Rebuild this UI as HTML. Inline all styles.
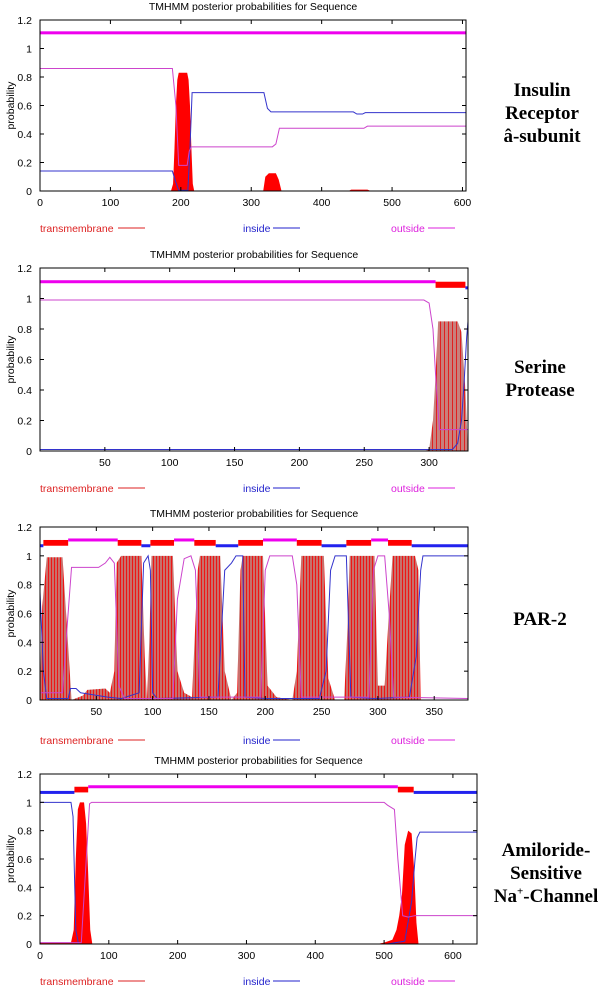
<!DOCTYPE html>
<html><head><meta charset="utf-8">
<style>
html,body{margin:0;padding:0;background:#fff;}
body{width:600px;height:986px;position:relative;overflow:hidden;font-family:"Liberation Sans",sans-serif;}
svg{position:absolute;left:0;top:0;}
.lab{position:absolute;font-family:"Liberation Serif",serif;font-weight:bold;font-size:19px;text-align:center;line-height:23px;color:#000;}
</style></head>
<body>
<svg id="chart" width="600" height="986" viewBox="0 0 600 986">
<defs>
<pattern id="stripe2" patternUnits="userSpaceOnUse" width="4" height="10"><rect width="4" height="10" fill="#c8807c"/><rect width="1" height="10" fill="#e02020"/></pattern>
<pattern id="stripe3" patternUnits="userSpaceOnUse" width="3" height="10"><rect width="3" height="10" fill="#c8706c"/><rect width="1" height="10" fill="#ee1515"/></pattern>
</defs>
</svg>
<div class="lab" style="left:482px;top:79px;width:120px;">Insulin<br>Receptor<br>â-subunit</div>
<div class="lab" style="left:482px;top:356px;width:116px;">Serine<br>Protease</div>
<div class="lab" style="left:482px;top:608px;width:116px;">PAR-2</div>
<div class="lab" style="left:490px;top:839px;width:112px;">Amiloride-<br>Sensitive<br>Na<sup style="font-size:11px;line-height:0">+</sup>-Channel</div>
<script>
// ---- Chart 1: Insulin receptor ----
const c1TmX=[0,186,189,191,193,195,197,209,211,213,215,217,219,317,320,325,335,339,343,438,442,465,470,605];
const c1TmY=[0,0,0.05,0.3,0.6,0.78,0.83,0.83,0.78,0.6,0.3,0.05,0,0,0.1,0.125,0.125,0.08,0,0,0.01,0.01,0,0];
const c1InX=[0,188,193,197,210,213,216,318,323,328,445,450,458,462,605];
const c1InY=[0.14,0.14,0.06,0.005,0.005,0.3,0.69,0.69,0.58,0.555,0.555,0.54,0.54,0.55,0.55];
const c1OutX=[0,188,193,197,209,212,215,330,335,340,460,465,605];
const c1OutY=[0.86,0.86,0.6,0.18,0.18,0.28,0.31,0.31,0.33,0.44,0.44,0.455,0.455];
const c1Topo=[[0,605,'o']];
const c1XTicks=[0,100,200,300,400,500,600];
// ---- Chart 2: Serine protease ----
const c2TmX=[0,296,300,303,305,307,322,325,328,330];
const c2TmY=[0,0,0.01,0.2,0.5,0.85,0.85,0.78,0.4,0];
const c2InX=[0,318,322,325,327,329,330];
const c2InY=[0.01,0.01,0.05,0.2,0.45,0.75,0.85];
const c2OutX=[0,296,300,303,305,308,330];
const c2OutY=[0.99,0.99,0.97,0.8,0.5,0.14,0.14];
const c2Topo=[[0,305,'o'],[305,328,'t'],[328,330,'i']];
const c2XTicks=[50,100,150,200,250,300];
// ---- Chart 3: PAR-2 ----
const c3TmX=[0,2,6,20,24,28,38,42,58,62,66,68,72,90,93,95,97,99,118,122,128,135,140,142,160,164,170,175,178,180,198,202,210,224,228,232,252,256,262,270,273,275,297,300,306,309,313,333,336,338,380];
const c3TmY=[0.1,0.65,0.99,0.99,0.5,0,0.03,0.07,0.08,0.05,0.2,0.95,1,1,0.3,0,0.4,1,1,0.2,0.05,0.02,0.9,1,1,0.2,0,0.05,0.9,1,1,0.1,0.02,0,0.2,1,1,0.15,0,0,0.5,1,1,0.1,0.1,0.5,1,1,0.9,0,0];
const c3InX=[0,3,6,25,27,32,36,60,72,88,92,96,98,100,104,158,164,170,174,180,182,200,248,254,258,262,272,276,296,328,334,338,340,380];
const c3InY=[0.75,0.2,0.01,0.01,0.08,0.08,0.05,0.02,0.01,0.05,0.95,1,0.9,0.05,0.01,0.02,0.9,0.95,1,1,0.02,0.01,0.01,0.2,0.9,1,1,0.02,0.01,0.02,0.3,0.9,1,1];
const c3OutX=[0,20,24,28,52,58,62,66,70,75,118,122,128,134,138,142,196,200,204,224,228,232,292,296,300,306,310,314,380];
const c3OutY=[0.05,0.05,0.5,0.92,0.92,0.95,0.99,0.95,0.1,0.01,0.01,0.7,0.98,1,0.9,0.02,0.02,0.9,1,1,0.8,0.02,0.02,0.9,1,1,0.6,0.02,0.01];
const c3Topo=[[0,3,'i'],[3,25,'t'],[25,69,'o'],[69,90,'t'],[90,98,'i'],[98,119,'t'],[119,137,'o'],[137,156,'t'],[156,176,'i'],[176,198,'t'],[198,228,'o'],[228,250,'t'],[250,272,'i'],[272,294,'t'],[294,309,'o'],[309,330,'t'],[330,380,'i']];
const c3XTicks=[50,100,150,200,250,300,350];
// ---- Chart 4: Na channel ----
const c4TmX=[0,45,49,52,55,58,64,67,70,73,76,490,500,512,518,522,526,530,535,540,544,547,550,635];
const c4TmY=[0.01,0.01,0.1,0.6,0.95,1,1,0.85,0.5,0.1,0,0,0.01,0.03,0.1,0.2,0.35,0.7,0.8,0.78,0.5,0.15,0,0];
const c4InX=[0,45,48,52,56,505,530,540,545,548,552,635];
const c4InY=[1,1,0.9,0.1,0,0,0.02,0.3,0.6,0.75,0.79,0.79];
const c4OutX=[0,60,66,72,75,500,505,515,520,527,535,545,635];
const c4OutY=[0.01,0.01,0.5,0.99,1,1,0.98,0.95,0.6,0.2,0.19,0.2,0.2];
const c4Topo=[[0,50,'i'],[50,70,'t'],[70,520,'o'],[520,543,'t'],[543,635,'i']];
const c4XTicks=[0,100,200,300,400,500,600];
const yTicks=[0,0.2,0.4,0.6,0.8,1,1.2];
const yTickLabels=['0','0.2','0.4','0.6','0.8','1','1.2'];

const svg=document.getElementById('chart');
const NS='http://www.w3.org/2000/svg';
function mk(tag,attrs,parent){const e=document.createElementNS(NS,tag);for(const k in attrs)e.setAttribute(k,attrs[k]);(parent||svg).appendChild(e);return e;}

function drawChart(id,cfg){
  const g=mk('g',{});
  
  
  const sx=v=>cfg.x0+(v-cfg.xmin)/(cfg.xmax-cfg.xmin)*(cfg.x1-cfg.x0);
  const sy=v=>cfg.yb-(v/1.2)*(cfg.yb-cfg.yt);
  const t=mk('text',{x:(cfg.x0+cfg.x1)/2,y:cfg.yt-10,'font-size':'10.5','text-anchor':'middle',fill:'#000'},g);
  t.textContent='TMHMM posterior probabilities for Sequence';
  
  
  const yl=mk('text',{x:0,y:0,'font-size':'10.5','text-anchor':'middle',transform:`translate(14,${(cfg.yt+cfg.yb)/2}) rotate(-90)`},g);
  yl.textContent='probability';
  
  
  let d=`M${sx(cfg.tmX[0])},${sy(0)}`;
  cfg.tmX.forEach((x,i)=>{d+=`L${sx(x)},${sy(cfg.tmY[i])}`;});
  d+=`L${sx(cfg.tmX[cfg.tmX.length-1])},${sy(0)}Z`;
  const a=mk('path',{d:d,fill:cfg.fill,stroke:'none'},g);
  
  
  const line=(xs,ys,col,name)=>{
    const p=mk('path',{d:xs.map((x,i)=>(i?'L':'M')+sx(x)+','+sy(ys[i])).join(''),fill:'none',stroke:col,'stroke-width':'1'},g);
    
    
  };
  line(cfg.inX,cfg.inY,'#3333cc','inside-line');
  line(cfg.outX,cfg.outY,'#cc44cc','outside-line');
  cfg.topo.forEach(s=>{
    let r;
    if(s[2]==='t') r=mk('rect',{x:sx(s[0]),y:sy(1.11),width:sx(s[1])-sx(s[0]),height:sy(1.07)-sy(1.11),fill:'#ff0000'},g);
    else if(s[2]==='o') r=mk('rect',{x:sx(s[0]),y:sy(1.11)-1.5,width:sx(s[1])-sx(s[0]),height:3,fill:'#ee00ee'},g);
    else r=mk('rect',{x:sx(s[0]),y:sy(1.07)-1.5,width:sx(s[1])-sx(s[0]),height:3,fill:'#2222ee'},g);
    
    
  });
  const f=mk('rect',{x:cfg.x0,y:cfg.yt,width:cfg.x1-cfg.x0,height:cfg.yb-cfg.yt,fill:'none',stroke:'#000','stroke-width':'1'},g);
  
  
  yTicks.forEach((v,i)=>{
    mk('line',{x1:cfg.x0,x2:cfg.x0+4,y1:sy(v),y2:sy(v),stroke:'#000'},g);
    mk('line',{x1:cfg.x1,x2:cfg.x1-4,y1:sy(v),y2:sy(v),stroke:'#000'},g);
    const tl=mk('text',{x:cfg.x0-8,y:sy(v)+4,'font-size':'10.5','text-anchor':'end'},g);
    tl.textContent=yTickLabels[i];
    
    
  });
  cfg.xticks.forEach(v=>{
    mk('line',{x1:sx(v),x2:sx(v),y1:cfg.yb,y2:cfg.yb-4,stroke:'#000'},g);
    mk('line',{x1:sx(v),x2:sx(v),y1:cfg.yt,y2:cfg.yt+4,stroke:'#000'},g);
    const tl=mk('text',{x:sx(v),y:cfg.yb+15,'font-size':'10.5','text-anchor':'middle'},g);
    tl.textContent=String(v);
    
    
  });
  const L=cfg.leg;
  [['transmembrane','#dd2222',40,118],['inside','#2222cc',243,273],['outside','#dd22dd',391,428]].forEach(e=>{
    const tx=mk('text',{x:e[2],y:L+4,'font-size':'10.5',fill:e[1]},g);
    tx.textContent=e[0];
    
    
    mk('line',{x1:e[3],x2:e[3]+27,y1:L,y2:L,stroke:e[1],'stroke-width':'1'},g);
  });
}
drawChart('chart-insulin-receptor',{x0:40,x1:466,yt:20,yb:191,xmin:0,xmax:605,tmX:c1TmX,tmY:c1TmY,inX:c1InX,inY:c1InY,outX:c1OutX,outY:c1OutY,topo:c1Topo,xticks:c1XTicks,fill:'#ff0000',leg:228});
drawChart('chart-serine-protease',{x0:40,x1:468,yt:268,yb:451,xmin:0,xmax:330,tmX:c2TmX,tmY:c2TmY,inX:c2InX,inY:c2InY,outX:c2OutX,outY:c2OutY,topo:c2Topo,xticks:c2XTicks,fill:'url(#stripe2)',leg:488});
drawChart('chart-par2',{x0:40,x1:468,yt:527,yb:700,xmin:0,xmax:380,tmX:c3TmX,tmY:c3TmY,inX:c3InX,inY:c3InY,outX:c3OutX,outY:c3OutY,topo:c3Topo,xticks:c3XTicks,fill:'url(#stripe3)',leg:740});
drawChart('chart-na-channel',{x0:40,x1:477,yt:774,yb:944,xmin:0,xmax:635,tmX:c4TmX,tmY:c4TmY,inX:c4InX,inY:c4InY,outX:c4OutX,outY:c4OutY,topo:c4Topo,xticks:c4XTicks,fill:'#ff0000',leg:981});
</script>
</body></html>
